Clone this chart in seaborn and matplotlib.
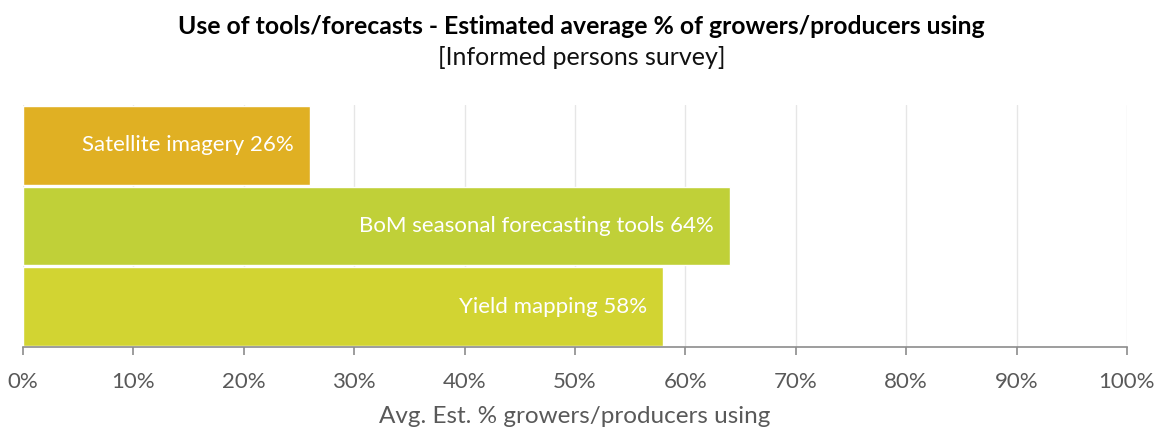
import matplotlib
matplotlib.use("Agg")
import matplotlib.pyplot as plt
import seaborn as sns
import pandas as pd
from matplotlib.ticker import FuncFormatter

categories = ["Satellite imagery", "BoM seasonal forecasting tools", "Yield mapping"]
values = [26, 64, 58]
colors = ["#E0B023", "#C0D038", "#D2D432"]
ticks = [0, 10, 20, 30, 40, 50, 60, 70, 80, 90, 100]

sns.set_theme(style="white")
plt.rcParams["font.family"] = ["Lato", "DejaVu Sans"]

df = pd.DataFrame({"tool": categories, "pct": values})

fig = plt.figure(figsize=(11.63, 4.34), dpi=100)
ax = fig.add_axes([0.0198, 0.2005, 0.9492, 0.5575])

sns.barplot(data=df, y="tool", x="pct", hue="tool", palette=colors,
            orient="h", width=0.975, legend=False, ax=ax, saturation=1)

ax.set_xlim(0, 100)
ax.set_ylim(2.5, -0.5)
ax.set_xticks(ticks)
ax.xaxis.set_major_formatter(FuncFormatter(lambda v, p: f"{int(v)}%"))
ax.grid(axis="x", color="#E6E6E6", linewidth=1)
ax.set_axisbelow(True)
for s in ["top", "right", "left"]:
    ax.spines[s].set_visible(False)
ax.spines["bottom"].set_color("#8C8C8C")
ax.spines["bottom"].set_linewidth(1.2)
ax.tick_params(axis="x", bottom=True, length=6, width=1.2, color="#8C8C8C",
               labelsize=16, labelcolor="#595959", pad=12)
ax.set_yticks([])
ax.set_ylabel("")
ax.set_xlabel("Avg. Est. % growers/producers using", fontsize=17.5, color="#595959", labelpad=10)

for i, (c, v) in enumerate(zip(categories, values)):
    ax.annotate(f"{c} {v}%", xy=(v, i), xytext=(-11.5, 0), textcoords="offset points",
                ha="right", va="center", color="white", fontsize=16)

fig.text(0.5, 0.940, "Use of tools/forecasts - Estimated average % of growers/producers using",
         ha="center", va="center", fontsize=17.8, fontweight="bold", color="black")
fig.text(0.5, 0.868, "[Informed persons survey]", ha="center", va="center",
         fontsize=18, color="#111111")

fig.savefig("out.png", dpi=100)
